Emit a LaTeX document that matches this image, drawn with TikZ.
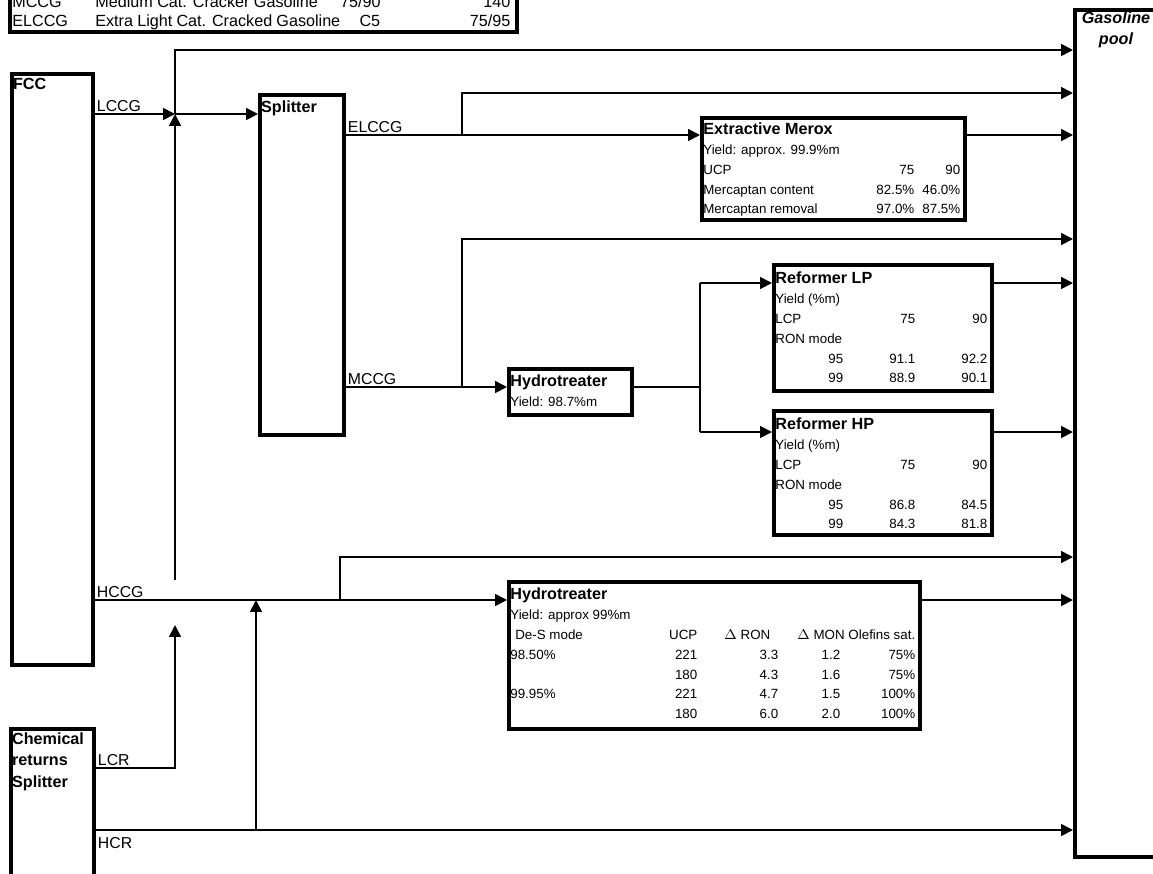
\documentclass[tikz,border=0pt]{standalone}
\usepackage{fontspec}
\usepackage{array}
\setmainfont{Liberation Sans}
\usetikzlibrary{arrows.meta}
\newcommand{\titlefnt}{\fontsize{9.2}{12}\selectfont\bfseries}
\newcommand{\bodyfnt}{\fontsize{7.6}{11.34}\selectfont}
\newcommand{\streamfnt}{\fontsize{9}{11}\selectfont}
\newcommand{\legendfnt}{\fontsize{9.2}{10.8}\selectfont}
\newcolumntype{R}[1]{>{\raggedleft\arraybackslash}p{#1}}
\setlength{\tabcolsep}{0pt}
\begin{document}
\begin{tikzpicture}[x=0.02cm, y=-0.02cm]
	\tikzstyle{Unit} = [rectangle, draw=black, line width=2.2pt, inner sep=0pt, anchor=north west]
	\tikzstyle{Title} = [font=\titlefnt, inner sep=1pt, anchor=north west, align=left]
	\tikzstyle{Table} = [font=\bodyfnt, inner sep=0pt, anchor=north west]
	\tikzstyle{Stream} = [font=\streamfnt, inner sep=1pt]
	\tikzstyle{pipe} = [line width=1pt]
	\tikzstyle{arrow} = [line width=1pt, -{Triangle[length=6.8pt, width=6.8pt]}]

	\useasboundingbox (0,0) rectangle (1153,873);
	\clip (0,0) rectangle (1153,873);

	\node (legend) [Unit, minimum width=10.14cm, minimum height=1.8cm] at (8,-60) {};
	\node (legendt) [font=\legendfnt, inner sep=0pt, anchor=north west] at (12,-6.3) {%
		\begin{tabular}{@{}p{1.66cm}p{4.9cm}R{0.8cm}R{2.6cm}@{}}
		MCCG & Medium Cat. Cracker Gasoline & 75/90 & 140\\
		ELCCG & Extra Light Cat. Cracked Gasoline & C5 & 75/95
		\end{tabular}};

	\node (fcc) [Unit, minimum width=1.62cm, minimum height=11.82cm] at (10,72) {};
	\node (fcct) [Title] at (11,76) {FCC};
	\node (chem) [Unit, minimum width=1.66cm, minimum height=4cm] at (9,727) {};
	\node (chemt) [Title] at (10,731) {Chemical\\returns\\Splitter};
	\node (splitter) [Unit, minimum width=1.68cm, minimum height=6.8cm] at (258,93) {};
	\node (splittert) [Title] at (259,99) {Splitter};
	\node (pool) [Unit, minimum width=2.4cm, minimum height=16.94cm] at (1073,8) {};
	\node (poolt) [Title, anchor=north, align=center, font=\titlefnt\itshape] at (1116,10) {Gasoline\\pool};

	\node (merox) [Unit, minimum width=5.26cm, minimum height=2.04cm] at (700,116) {};
	\node (meroxt) [Table] at (703,120) {%
		\begin{tabular}{@{}p{2.8cm}R{1.42cm}R{0.92cm}@{}}
		\multicolumn{3}{@{}l}{\titlefnt Extractive Merox}\\
		\multicolumn{3}{@{}l}{Yield: approx. 99.9\%m}\\
		UCP & 75 & 90\\
		Mercaptan content & 82.5\% & 46.0\%\\
		Mercaptan removal & 97.0\% & 87.5\%
		\end{tabular}};

	\node (hydro1) [Unit, minimum width=2.46cm, minimum height=0.92cm] at (507,367) {};
	\node (hydro1t) [Table] at (510,372) {%
		\begin{tabular}{@{}l@{}}
		{\titlefnt Hydrotreater}\\
		Yield: 98.7\%m
		\end{tabular}};

	\node (reflp) [Unit, minimum width=4.36cm, minimum height=2.52cm] at (772,263) {};
	\node (reflpt) [Table] at (775,269) {%
		\begin{tabular}{@{}p{1.36cm}R{1.44cm}R{1.44cm}@{}}
		\multicolumn{3}{@{}l}{\titlefnt Reformer LP}\\
		\multicolumn{3}{@{}l}{Yield (\%m)}\\
		LCP & 75 & 90\\
		\multicolumn{3}{@{}l}{RON mode}\\
		\hfill 95 & 91.1 & 92.2\\
		\hfill 99 & 88.9 & 90.1
		\end{tabular}};

	\node (refhp) [Unit, minimum width=4.36cm, minimum height=2.48cm] at (772,409) {};
	\node (refhpt) [Table] at (775,415) {%
		\begin{tabular}{@{}p{1.36cm}R{1.44cm}R{1.44cm}@{}}
		\multicolumn{3}{@{}l}{\titlefnt Reformer HP}\\
		\multicolumn{3}{@{}l}{Yield (\%m)}\\
		LCP & 75 & 90\\
		\multicolumn{3}{@{}l}{RON mode}\\
		\hfill 95 & 86.8 & 84.5\\
		\hfill 99 & 84.3 & 81.8
		\end{tabular}};

	\node (hydro2) [Unit, minimum width=8.22cm, minimum height=2.94cm] at (507,580) {};
	\node (hydro2t) [Table] at (510,585) {%
		\begin{tabular}{@{}p{3cm}R{0.74cm}R{1.62cm}R{1.24cm}R{1.5cm}@{}}
		\multicolumn{5}{@{}l}{\titlefnt Hydrotreater}\\
		\multicolumn{5}{@{}l}{Yield: approx 99\%m}\\
		\hspace*{0.1cm}De-S mode & UCP & $\Delta$ RON\hspace*{0.16cm} & \multicolumn{2}{r@{}}{$\Delta$ MON Olefins sat.}\\
		98.50\% & 221 & 3.3 & 1.2 & 75\%\\
		 & 180 & 4.3 & 1.6 & 75\%\\
		99.95\% & 221 & 4.7 & 1.5 & 100\%\\
		 & 180 & 6.0 & 2.0 & 100\%
		\end{tabular}};

	\coordinate (j1) at (175,114);
	\coordinate (j0) at (175,580);
	\coordinate (t1) at (175,50);
	\draw [arrow] (fcc.east |- j1) -- (j1);
	\draw [arrow] (j0) -- (j1);
	\draw [arrow] (j1) -- (splitter.west |- j1);
	\draw [arrow] (j1) -- (t1) -- (pool.west |- t1);
	\node (lccg) [Stream, anchor=south west] at (fcc.east |- j1) {LCCG};

	\coordinate (e1) at (462,135);
	\coordinate (e2) at (462,93);
	\draw [arrow] (splitter.east |- e1) -- (merox.west |- e1);
	\draw [arrow] (e1) -- (e2) -- (pool.west |- e2);
	\draw [arrow] (merox.east |- e1) -- (pool.west |- e1);
	\node (elccg) [Stream, anchor=south west] at (splitter.east |- e1) {ELCCG};

	\coordinate (m1) at (462,387);
	\coordinate (m2) at (462,239);
	\draw [arrow] (splitter.east |- m1) -- (hydro1.west |- m1);
	\draw [arrow] (m1) -- (m2) -- (pool.west |- m2);
	\node (mccg) [Stream, anchor=south west] at (splitter.east |- m1) {MCCG};

	\coordinate (r0) at (700,387);
	\coordinate (r1) at (700,283);
	\coordinate (r2) at (700,432);
	\draw [pipe] (hydro1.east |- r0) -- (r0);
	\draw [pipe] (r1) -- (r2);
	\draw [arrow] (r1) -- (reflp.west |- r1);
	\draw [arrow] (r2) -- (refhp.west |- r2);
	\draw [arrow] (reflp.east |- r1) -- (pool.west |- r1);
	\draw [arrow] (refhp.east |- r2) -- (pool.west |- r2);

	\coordinate (h1) at (340,600);
	\coordinate (h2) at (340,557);
	\draw [arrow] (fcc.east |- h1) -- (hydro2.west |- h1);
	\draw [arrow] (h1) -- (h2) -- (pool.west |- h2);
	\draw [arrow] (hydro2.east |- h1) -- (pool.west |- h1);
	\node (hccg) [Stream, anchor=south west] at (fcc.east |- h1) {HCCG};

	\coordinate (l1) at (175,768);
	\coordinate (l2) at (175,625);
	\draw [arrow] (chem.east |- l1) -- (l1) -- (l2);
	\node (lcr) [Stream, anchor=south west] at (chem.east |- l1) {LCR};

	\coordinate (c1) at (256,830);
	\coordinate (c2) at (256,600);
	\draw [arrow] (chem.east |- c1) -- (pool.west |- c1);
	\draw [arrow] (c1) -- (c2);
	\node (hcr) [Stream, anchor=north west, yshift=-3pt] at (chem.east |- c1) {HCR};
\end{tikzpicture}
\end{document}
